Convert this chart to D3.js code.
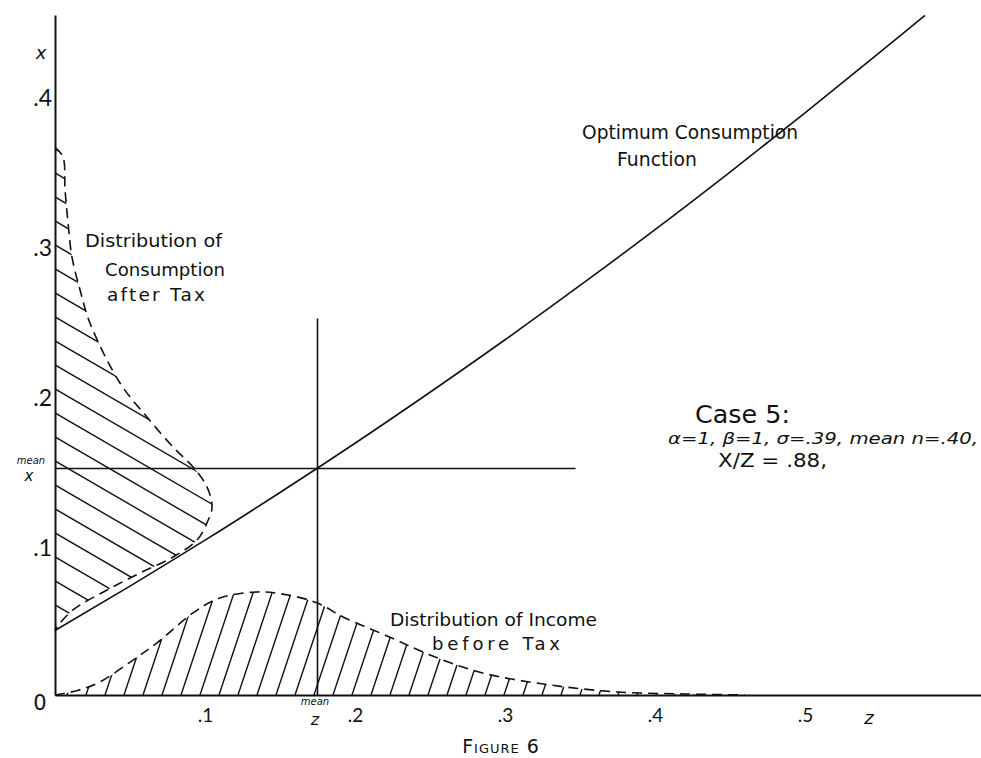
<!DOCTYPE html>
<html>
<head>
<meta charset="utf-8">
<script src="https://cdn.jsdelivr.net/npm/d3@7/dist/d3.min.js"></script>
<style>
  html, body { margin: 0; padding: 0; background: #fff; }
  svg { display: block; }
  .hand { font-family: "DejaVu Sans", sans-serif; fill: #111; }
</style>
</head>
<body>
<svg id="chart" width="981" height="758"></svg>
<script>
// ---- data ----
const xTicks = [0.1, 0.2, 0.3, 0.4, 0.5];          // z axis tick values
const yTicks = [0.1, 0.2, 0.3, 0.4];               // x axis tick values
const tickLabels = [".1", ".2", ".3", ".4", ".5"];

// Optimum consumption function x(z)
const consFnZ = [0, 0.05, 0.10, 0.15, 0.20, 0.25, 0.30, 0.35, 0.40, 0.45, 0.50, 0.55, 0.58];
const consFnX = [0.043, 0.0726, 0.1032, 0.135, 0.1678, 0.2018, 0.2368, 0.273, 0.3102, 0.3486, 0.388, 0.4286, 0.453];

// Distribution of income before tax (height above z axis)
const incomeZ = [0, 0.015, 0.03, 0.052, 0.068, 0.092, 0.11, 0.135, 0.155, 0.175, 0.192, 0.223, 0.25, 0.285, 0.33, 0.375, 0.42, 0.46];
const incomeH = [0, 0.003, 0.0087, 0.0233, 0.0347, 0.0547, 0.0647, 0.0687, 0.0667, 0.0613, 0.052, 0.0387, 0.0267, 0.0147, 0.0067, 0.002, 0.0007, 0];

// Distribution of consumption after tax (width out from x axis)
const consLevel = [0.365, 0.3587, 0.3367, 0.3147, 0.292, 0.27, 0.248, 0.208, 0.1853, 0.1653, 0.152, 0.1387, 0.1253, 0.1147, 0.1033, 0.092, 0.0813, 0.07, 0.0567, 0.0453, 0.043];
const consWidth = [0, 0.0053, 0.0067, 0.0087, 0.0113, 0.0167, 0.0233, 0.0433, 0.0613, 0.0787, 0.092, 0.1013, 0.1047, 0.1013, 0.0947, 0.0787, 0.0567, 0.0347, 0.012, 0.0013, 0];

const meanZ = 0.175, meanX = 0.151;
const meanZLineTop = 0.251, meanXLineEnd = 0.347;

// ---- drawing ----
const svg = d3.select("#chart");
const x = d3.scaleLinear().domain([0, 0.6173]).range([55, 981]);
const y = d3.scaleLinear().domain([0, 0.4533]).range([695, 15]);

const defs = svg.append("defs");

// income area + hatch
const incomePts = incomeZ.map((z, i) => [z, incomeH[i]]);
const incomeArea = d3.area().x(d => x(d[0])).y0(y(0)).y1(d => y(d[1])).curve(d3.curveCatmullRom);
defs.append("clipPath").attr("id", "clipIncome").append("path").attr("d", incomeArea(incomePts));
const gInc = svg.append("g").attr("clip-path", "url(#clipIncome)");
for (let px = x(0) - 45; px < x(0.47); px += 19) {
  gInc.append("line").attr("x1", px).attr("y1", y(0)).attr("x2", px + 40).attr("y2", y(0) - 120)
    .attr("stroke", "#111").attr("stroke-width", 1.4);
}

// consumption area + hatch
const consPts = consLevel.map((l, i) => [consWidth[i], l]);
const consArea = d3.area().y(d => y(d[1])).x0(x(0)).x1(d => x(d[0])).curve(d3.curveCatmullRom);
defs.append("clipPath").attr("id", "clipCons").append("path").attr("d", consArea(consPts));
const gCons = svg.append("g").attr("clip-path", "url(#clipCons)");
for (let py = y(0.38); py < y(0.03); py += 24) {
  gCons.append("line").attr("x1", x(0)).attr("y1", py).attr("x2", x(0) + 260).attr("y2", py + 151)
    .attr("stroke", "#111").attr("stroke-width", 1.4);
}

// dashed distribution curves
const incomeLine = d3.line().x(d => x(d[0])).y(d => y(d[1])).curve(d3.curveCatmullRom);
svg.append("path").attr("d", incomeLine(incomePts)).attr("fill", "none")
  .attr("stroke", "#111").attr("stroke-width", 1.6).attr("stroke-dasharray", "10,6");
const consLine = d3.line().x(d => x(d[0])).y(d => y(d[1])).curve(d3.curveCatmullRom);
svg.append("path").attr("d", consLine(consPts)).attr("fill", "none")
  .attr("stroke", "#111").attr("stroke-width", 1.6).attr("stroke-dasharray", "10,6");

// consumption function
const fnLine = d3.line().x(d => x(d[0])).y(d => y(d[1])).curve(d3.curveMonotoneX);
svg.append("path").attr("d", fnLine(consFnZ.map((z, i) => [z, consFnX[i]]))).attr("fill", "none")
  .attr("stroke", "#111").attr("stroke-width", 1.6);

// mean lines
svg.append("line").attr("x1", x(meanZ)).attr("x2", x(meanZ)).attr("y1", y(0)).attr("y2", y(meanZLineTop))
  .attr("stroke", "#111").attr("stroke-width", 1.6);
svg.append("line").attr("x1", x(0)).attr("x2", x(meanXLineEnd)).attr("y1", y(meanX)).attr("y2", y(meanX))
  .attr("stroke", "#111").attr("stroke-width", 1.6);

// axes
const xAxis = d3.axisBottom(x).tickValues(xTicks).tickSize(0).tickSizeOuter(0).tickPadding(14)
  .tickFormat((d, i) => tickLabels[i]);
const gx = svg.append("g").attr("transform", `translate(0,${y(0)})`).call(xAxis);
gx.select(".domain").attr("stroke", "#111").attr("stroke-width", 2);
gx.selectAll("text").attr("font-family", "Lato, sans-serif").attr("font-size", 19).attr("fill", "#111");

const yAxis = d3.axisLeft(y).tickValues(yTicks).tickSize(0).tickSizeOuter(0).tickPadding(3)
  .tickFormat((d, i) => tickLabels[i]);
const gy = svg.append("g").attr("transform", `translate(${x(0)},0)`).call(yAxis);
gy.select(".domain").attr("stroke", "#111").attr("stroke-width", 2);
gy.selectAll("text").attr("font-family", "Lato, sans-serif").attr("font-size", 23).attr("fill", "#111")
  .attr("dy", "0.45em");

// text labels
function txt(t, px, py, size, opts = {}) {
  const e = svg.append("text").attr("class", "hand").attr("x", px).attr("y", py)
    .attr("font-size", size).attr("text-anchor", opts.anchor || "start").text(t);
  if (opts.italic) e.attr("font-style", "italic");
  if (opts.family) e.attr("font-family", opts.family);
  if (opts.variant) e.attr("font-variant", opts.variant);
  if (opts.spacing) e.attr("letter-spacing", opts.spacing);
  if (opts.len) e.attr("textLength", opts.len).attr("lengthAdjust", opts.adjust || "spacingAndGlyphs");
  return e;
}
txt("0", 40, 710, 21, { anchor: "middle", family: "Lato, sans-serif" });
txt("x", 41, 59, 18, { anchor: "middle", italic: true });
txt("z", 869, 724, 18, { anchor: "middle", italic: true });
txt("mean", 31, 464, 10, { anchor: "middle", italic: true });
txt("x", 29, 481, 15, { anchor: "middle", italic: true });
txt("mean", 315, 705, 10, { anchor: "middle", italic: true });
txt("z", 315, 725, 16, { anchor: "middle", italic: true });

txt("Optimum Consumption", 582, 139, 19, { len: 216 });
txt("Function", 617, 166, 19, { len: 80 });
txt("Distribution of", 85, 247, 18.5, { len: 137 });
txt("Consumption", 105, 276, 18.5, { len: 120 });
txt("after Tax", 107, 301, 18.5, { len: 98, adjust: "spacing" });
txt("Distribution of Income", 390, 626, 18, { len: 207 });
txt("before Tax", 432, 650, 18, { len: 128, adjust: "spacing" });
txt("Case 5:", 695, 423, 24, { len: 95 });
txt("α=1,  β=1, σ=.39,  mean  n=.40,", 668, 444, 16, { italic: true, len: 310 });
txt("X/Z = .88,", 718, 467, 20, { len: 109 });
txt("Figure 6", 501, 753, 19, { anchor: "middle", family: "Liberation Serif, serif", variant: "small-caps", spacing: 1 });
</script>
</body>
</html>
